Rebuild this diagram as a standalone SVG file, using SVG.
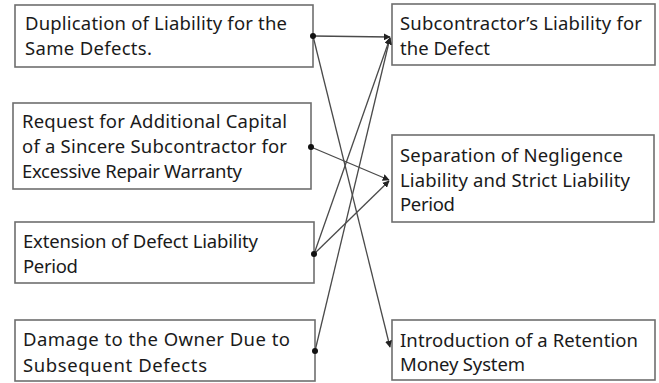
<svg xmlns="http://www.w3.org/2000/svg" width="659" height="383" viewBox="0 0 659 383">
  <style>
    .box { fill: #ffffff; stroke: #6e6e6e; stroke-width: 1.6; }
    .lbl { font-family: "Noto Sans", "Open Sans", sans-serif; font-size: 18.5px; fill: #1a1a1a; }
    .link { stroke: #4a4a4a; stroke-width: 1.3; fill: none; marker-end: url(#arrow); }
    .dot { fill: #111111; }
  </style>
  <defs>
    <marker id="arrow" viewBox="0 0 10 10" refX="9" refY="5" markerWidth="7" markerHeight="7" markerUnits="userSpaceOnUse" orient="auto">
      <path d="M0,0 L10,5 L0,10 Z" fill="#222222"/>
    </marker>
  </defs>
  <rect width="659" height="383" fill="#ffffff"/>

  <!-- causes (left column) -->
  <g id="node-duplication">
    <rect class="box" x="15" y="5" width="298" height="62"/>
    <text class="lbl" x="25" y="30" textLength="262" lengthAdjust="spacing">Duplication of Liability for the</text>
    <text class="lbl" x="25" y="55" textLength="127" lengthAdjust="spacing">Same Defects.</text>
  </g>
  <g id="node-capital">
    <rect class="box" x="13" y="103" width="298" height="86"/>
    <text class="lbl" x="22" y="128" textLength="265" lengthAdjust="spacing">Request for Additional Capital</text>
    <text class="lbl" x="22" y="153" textLength="265" lengthAdjust="spacing">of a Sincere Subcontractor for</text>
    <text class="lbl" x="22" y="178" textLength="220" lengthAdjust="spacing">Excessive Repair Warranty</text>
  </g>
  <g id="node-extension">
    <rect class="box" x="15" y="222" width="299" height="61"/>
    <text class="lbl" x="23" y="248" textLength="235" lengthAdjust="spacing">Extension of Defect Liability</text>
    <text class="lbl" x="23" y="273" textLength="55" lengthAdjust="spacing">Period</text>
  </g>
  <g id="node-damage">
    <rect class="box" x="15" y="320" width="300" height="61"/>
    <text class="lbl" x="23" y="346" textLength="267" lengthAdjust="spacing">Damage to the Owner Due to</text>
    <text class="lbl" x="23" y="372" textLength="184" lengthAdjust="spacing">Subsequent Defects</text>
  </g>

  <!-- measures (right column) -->
  <g id="node-subcontractor">
    <rect class="box" x="392" y="4" width="263" height="61"/>
    <text class="lbl" x="400" y="30" textLength="242" lengthAdjust="spacing">Subcontractor’s Liability for</text>
    <text class="lbl" x="400" y="55" textLength="90" lengthAdjust="spacing">the Defect</text>
  </g>
  <g id="node-separation">
    <rect class="box" x="392" y="135" width="262" height="87"/>
    <text class="lbl" x="400" y="162" textLength="223" lengthAdjust="spacing">Separation of Negligence</text>
    <text class="lbl" x="400" y="187" textLength="230" lengthAdjust="spacing">Liability and Strict Liability</text>
    <text class="lbl" x="400" y="211" textLength="55" lengthAdjust="spacing">Period</text>
  </g>
  <g id="node-retention">
    <rect class="box" x="392" y="320" width="263" height="60"/>
    <text class="lbl" x="400" y="347" textLength="238" lengthAdjust="spacing">Introduction of a Retention</text>
    <text class="lbl" x="400" y="371" textLength="125" lengthAdjust="spacing">Money System</text>
  </g>

  <!-- connectors -->
  <g id="connectors">
    <line class="link" x1="313" y1="36" x2="390" y2="37"/>
    <line class="link" x1="313" y1="36" x2="390" y2="347"/>
    <line class="link" x1="311" y1="147" x2="389" y2="180"/>
    <line class="link" x1="314" y1="254" x2="390" y2="38"/>
    <line class="link" x1="314" y1="254" x2="389" y2="181"/>
    <line class="link" x1="315" y1="351" x2="390" y2="38"/>
    <circle class="dot" cx="313" cy="36" r="3"/>
    <circle class="dot" cx="311" cy="147" r="3"/>
    <circle class="dot" cx="314" cy="254" r="3"/>
    <circle class="dot" cx="315" cy="351" r="3"/>
  </g>
</svg>
